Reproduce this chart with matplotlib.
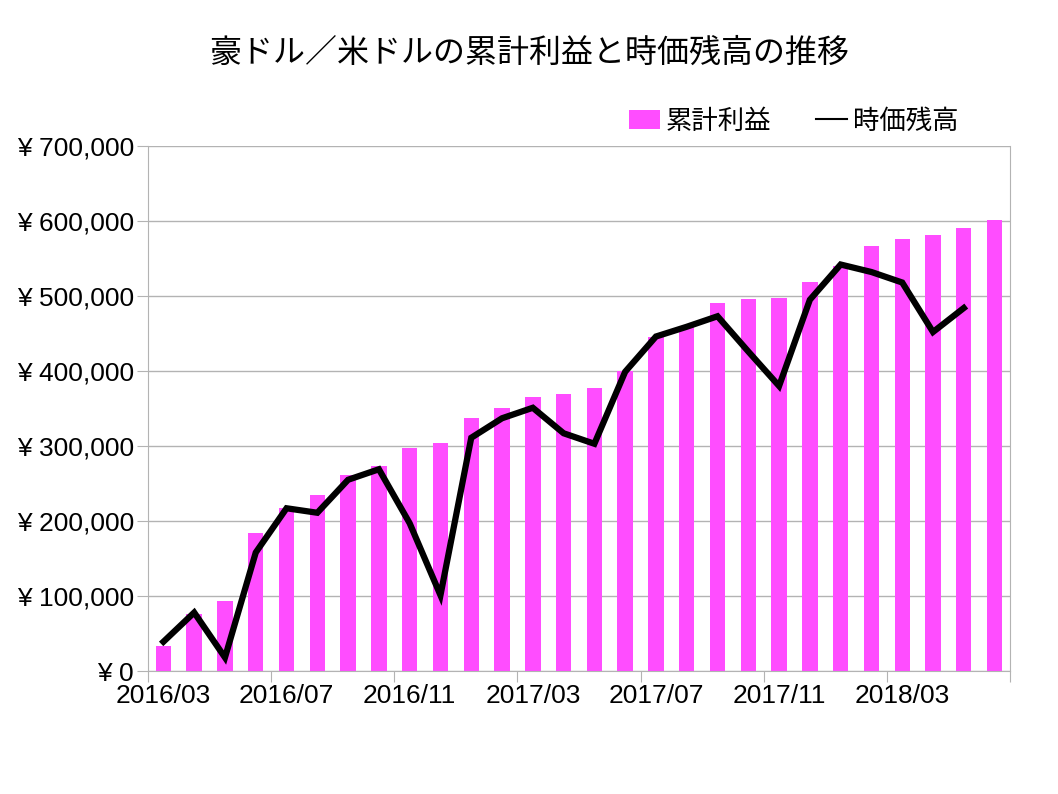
import matplotlib
matplotlib.use("Agg")
import matplotlib.pyplot as plt
from matplotlib.patches import Patch
from matplotlib.lines import Line2D
import numpy as np

# monthly data, 2016/03 - 2018/06
months = ["2016/03", "2016/04", "2016/05", "2016/06", "2016/07", "2016/08", "2016/09",
          "2016/10", "2016/11", "2016/12", "2017/01", "2017/02", "2017/03", "2017/04",
          "2017/05", "2017/06", "2017/07", "2017/08", "2017/09", "2017/10", "2017/11",
          "2017/12", "2018/01", "2018/02", "2018/03", "2018/04", "2018/05", "2018/06"]
cum_profit = [33000, 76000, 94000, 184000, 218000, 235000, 261000, 273000, 298000,
              304000, 338000, 351000, 366000, 369000, 378000, 400000, 445000, 459000,
              491000, 496000, 498000, 519000, 540000, 567000, 576000, 582000, 591000,
              602000]
market_value = [39000, 78000, 18000, 158000, 217000, 211000, 255000, 269000, 197000,
                101000, 311000, 337000, 351000, 317000, 303000, 399000, 446000, 459000,
                473000, 426000, 380000, 495000, 542000, 532000, 518000, 452000, 484000]

BAR_COLOR = '#ff4dff'
GRID_COLOR = '#b3b3b3'
CJK = ['Noto Sans CJK JP', 'DejaVu Sans']

plt.rcParams['font.family'] = ['Liberation Sans', 'Noto Sans CJK JP', 'DejaVu Sans']

fig = plt.figure(figsize=(10.58, 7.94), dpi=100)
ax = fig.add_axes([0.1399, 0.1549, 0.8147, 0.6612])

x = np.arange(len(months))
ax.bar(x, cum_profit, width=0.5, color=BAR_COLOR, zorder=2)
ax.plot(np.arange(len(market_value)), market_value, color='black', linewidth=4.5,
        zorder=3, solid_joinstyle='miter')

ax.set_xlim(-0.5, len(months) - 0.5)
ax.set_ylim(0, 700000)
ax.set_yticks(np.arange(0, 700001, 100000))
ax.set_yticklabels([f"¥ {v:,}" for v in range(0, 700001, 100000)], fontsize=19)
ax.yaxis.grid(True, color=GRID_COLOR, linewidth=1, zorder=0)
ax.tick_params(axis='y', length=8, color=GRID_COLOR, pad=2)

# ticks between categories every 4 months, labels at category centres
ax.set_xticks(np.arange(-0.5, len(months), 4))
ax.set_xticklabels([])
ax.tick_params(axis='x', which='major', length=8, color=GRID_COLOR)
ax.set_xticks(x[::4], minor=True)
ax.set_xticklabels(months[::4], minor=True, fontsize=19)
ax.tick_params(axis='x', which='minor', length=0, pad=9)

for s in ['left', 'bottom', 'right']:
    ax.spines[s].set_color(GRID_COLOR)
ax.spines['top'].set_visible(False)

fig.text(0.5, 0.934, "豪ドル／米ドルの累計利益と時価残高の推移", ha='center', va='center',
         fontsize=23, family=CJK)

handles = [Patch(facecolor=BAR_COLOR, edgecolor='none'),
           Line2D([0], [0], color='black', linewidth=1.5)]
fig.legend(handles, ['累計利益', '時価残高'], loc='center left',
           bbox_to_anchor=(0.5822, 0.8476), ncol=2, frameon=False, borderpad=0,
           prop={'family': CJK, 'size': 19},
           handlelength=1.17, handleheight=0.7, columnspacing=1.7, handletextpad=0.22)

fig.savefig("out.png", dpi=100)
